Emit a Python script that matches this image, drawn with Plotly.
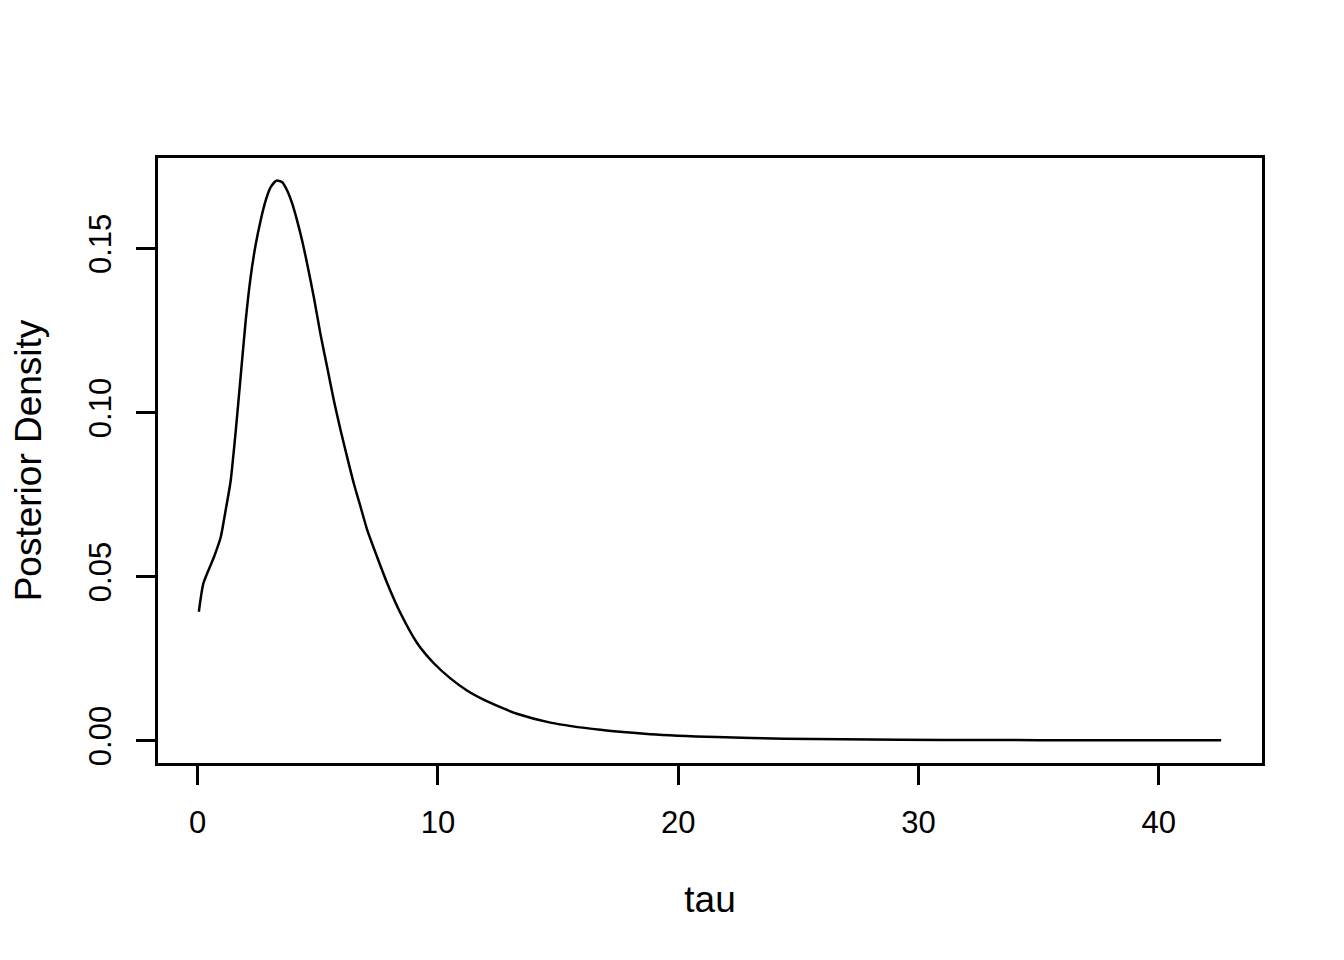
import plotly.graph_objects as go

tau = [0.05, 0.24, 0.68, 0.96, 1.16, 1.37, 1.58, 1.79, 2.0, 2.2, 2.41, 2.62, 2.83, 3.04,
       3.28, 3.52, 3.73, 3.94, 4.14, 4.35, 4.56, 4.84, 5.11, 5.39, 5.67, 5.95, 6.22, 6.5,
       6.78, 7.06, 7.47, 7.89, 8.44, 9.14, 9.83, 10.52, 11.21, 11.9, 12.6, 13.29, 14.68,
       16.76, 18.84, 21.6, 24.4, 29.2, 33.0, 37.0, 42.6]
density = [0.0393, 0.048, 0.056, 0.062, 0.070, 0.079, 0.094, 0.111, 0.128, 0.141, 0.151,
           0.1585, 0.1646, 0.1687, 0.1707, 0.1702, 0.1676, 0.1636, 0.1585, 0.1524, 0.1453,
           0.135, 0.124, 0.1139, 0.1037, 0.0946, 0.0865, 0.0784, 0.0713, 0.0642, 0.056,
           0.048, 0.0389, 0.0297, 0.0236, 0.0190, 0.0153, 0.0125, 0.0102, 0.0082, 0.0055,
           0.0033, 0.0020, 0.0011, 0.0006, 0.0003, 0.0002, 0.00015, 0.0001]

x_ticks = [0, 10, 20, 30, 40]
y_ticks = [0.00, 0.05, 0.10, 0.15]
y_tick_labels = ["0.00", "0.05", "0.10", "0.15"]

fig = go.Figure()
fig.add_trace(go.Scatter(x=tau, y=density, mode="lines", line_shape="spline",
                         line=dict(color="black", width=2.5, smoothing=0.6),
                         showlegend=False))

font = dict(family="Liberation Sans, Arial, sans-serif", size=31, color="black")

fig.update_layout(
    width=1344, height=960,
    margin=dict(l=150, r=90, t=150, b=205),
    paper_bgcolor="white", plot_bgcolor="white",
    font=font,
    xaxis=dict(range=[-1.65, 44.3], tickvals=x_ticks, ticks="outside", ticklen=19,
               tickwidth=2.5, tickcolor="black", showline=True, mirror=True,
               linecolor="black", linewidth=2.5, showgrid=False, zeroline=False,
               ticklabelstandoff=11, automargin=False,
               title=dict(text="tau", standoff=48), tickfont=font),
    yaxis=dict(range=[-0.0068, 0.1776], tickvals=y_ticks, ticktext=y_tick_labels,
               tickangle=-90, ticks="outside", ticklen=19,
               tickwidth=2.5, tickcolor="black", showline=True, mirror=True,
               linecolor="black", linewidth=2.5, showgrid=False, zeroline=False,
               ticklabelstandoff=13, automargin=False,
               title=dict(text="Posterior Density", standoff=45), tickfont=font),
)

fig.write_html("out.html")
